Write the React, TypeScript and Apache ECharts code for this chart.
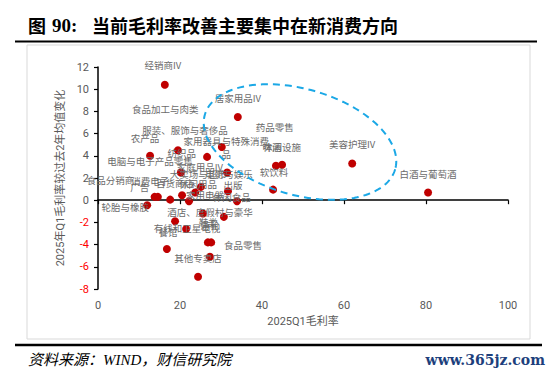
import React, { useEffect, useRef } from "react";
import * as echarts from "echarts";

// 行业名称
const names = [
  "经销商IV", "居家用品IV", "农产品", "服装、服饰与奢侈品", "电脑与电子产品零售",
  "药品零售", "纺织品", "家用器具与特殊消费品", "啤酒", "休闲设施",
  "美容护理IV", "白酒与葡萄酒", "家庭用品IV", "大卖场与超市", "食品分销商",
  "广告", "消费电子", "百货商店", "休闲用品", "电影与娱乐",
  "出版", "软饮料", "轮胎与橡胶", "家用电器", "休闲食品",
  "餐馆", "食品加工与肉类", "酒店、度假村与豪华游轮", "鞋类", "有线和卫星电视",
  "食品零售", "其他专卖店",
];
// 2025Q1毛利率
const grossMargin = [
  16.3, 34.1, 12.7, 19.5, 26.6,
  30.2, 20.2, 31.5, 43.4, 44.9,
  62.0, 80.5, 25.1, 23.7, 13.8,
  14.6, 17.6, 20.5, 22.2, 31.7,
  33.9, 42.7, 12.0, 25.6, 30.7,
  18.8, 21.5, 26.8, 27.6, 16.8,
  27.3, 24.4,
];
// 2025年Q1毛利率较过去2年均值变化
const marginChange = [
  10.4, 7.5, 4.0, 4.5, 3.9,
  4.8, 2.5, 2.5, 3.1, 3.2,
  3.3, 0.7, 1.2, 0.7, 0.3,
  0.3, 0.05, 0.45, -0.1, 0.8,
  -0.1, 0.95, -0.45, -1.2, -1.5,
  -1.9, -2.6, -3.8, -3.8, -4.4,
  -5.1, -6.9,
];
const xTicks = { min: 0, max: 100, interval: 20 };
const yTicks = { min: -8, max: 12, interval: 2 };

// label styling (wrapping and pixel offsets of data labels)
const labelWrap: Record<string, string> = {
  "家用器具与特殊消费品": "家用器具与特殊消费\n品",
  "酒店、度假村与豪华游轮": "酒店、度假村与豪华\n游轮",
};
const labelOffsets: Record<string, [number, number]> = {
  "经销商IV": [-2, -20],
  "居家用品IV": [0, -19],
  "农产品": [-5, -18],
  "服装、服饰与奢侈品": [7, -20],
  "电脑与电子产品零售": [-57, 4],
  "药品零售": [53, -20],
  "纺织品": [1, -19],
  "家用器具与特殊消费品": [-1, -24.5],
  "啤酒": [-4, -19],
  "休闲设施": [0, -18],
  "美容护理IV": [0, -20],
  "白酒与葡萄酒": [0, -18],
  "家庭用品IV": [-1, -20],
  "大卖场与超市": [3, -18],
  "食品分销商": [-44, -17],
  "广告": [-18, -10],
  "消费电子": [-20, -18.5],
  "百货商店": [-7, -12],
  "休闲用品": [9, -17],
  "电影与娱乐": [1, -17],
  "出版": [-4, -16],
  "软饮料": [1, -17.5],
  "轮胎与橡胶": [-22, 2],
  "家用电器": [2, -19],
  "休闲食品": [8, -19.5],
  "餐馆": [-7, 11],
  "食品加工与肉类": [-21, -120],
  "酒店、度假村与豪华游轮": [2, -23.5],
  "鞋类": [-3, -20],
  "有线和卫星电视": [20, -21],
  "食品零售": [33, -11.5],
  "其他专卖店": [0, -19],
};

const DOT = 8;
const SANS = "Roboto, 'Noto Sans', 'Noto Sans CJK SC', sans-serif";
const CJK = "'Noto Sans CJK SC', sans-serif";

// annotation ellipse outline (pixel geometry of the highlighted area)
function ellipsePoints(cx: number, cy: number, a: number, b: number, deg: number, n: number) {
  const th = (deg * Math.PI) / 180;
  const pts: number[][] = [];
  for (let i = 0; i < n; i++) {
    const t = (i / n) * Math.PI * 2;
    const ex = a * Math.cos(t);
    const ey = b * Math.sin(t);
    pts.push([cx + ex * Math.cos(th) - ey * Math.sin(th), cy + ex * Math.sin(th) + ey * Math.cos(th)]);
  }
  return pts;
}

export default function App() {
  const ref = useRef<HTMLDivElement>(null);
  useEffect(() => {
    if (!ref.current) return;
    const chart = echarts.init(ref.current, undefined, { renderer: "svg" });
    const data = names.map((n, i) => {
      const off = labelOffsets[n] || [0, -19];
      return {
        name: n,
        value: [grossMargin[i], marginChange[i]],
        label: { position: [DOT / 2 + off[0], DOT / 2 + off[1]] },
      };
    });
    const option: any = {
      animation: false,
      backgroundColor: "#fff",
      grid: { left: 98, top: 67, width: 410, height: 222, containLabel: false },
      xAxis: [
        {
          type: "value",
          ...xTicks,
          position: "bottom",
          axisLine: { show: false, onZero: false },
          axisTick: { show: false },
          splitLine: { show: false },
          axisLabel: { color: "#595959", fontSize: 11, fontFamily: SANS, margin: 11 },
          name: "2025Q1毛利率",
          nameLocation: "middle",
          nameGap: 26,
          nameTextStyle: { color: "#595959", fontSize: 11, fontFamily: SANS },
        },
        {
          type: "value",
          ...xTicks,
          position: "bottom",
          axisLine: { show: true, onZero: true, lineStyle: { color: "#000", width: 1.6 } },
          axisTick: { show: true, length: 4, lineStyle: { color: "#000", width: 1.2 } },
          axisLabel: { show: false },
          splitLine: { show: false },
        },
      ],
      yAxis: {
        type: "value",
        ...yTicks,
        axisLine: { show: true, lineStyle: { color: "#000", width: 1.5 } },
        axisTick: { show: true, length: 4, lineStyle: { color: "#000", width: 1.2 } },
        splitLine: { show: false },
        axisLabel: {
          fontSize: 11,
          fontFamily: SANS,
          margin: 9,
          color: (v: any) => (Number(v) < 0 ? "#FF0000" : "#595959"),
        },
        name: "2025年Q1毛利率较过去2年均值变化",
        nameLocation: "middle",
        nameGap: 30,
        nameTextStyle: { color: "#595959", fontSize: 11, fontFamily: SANS },
      },
      series: [
        {
          type: "scatter",
          xAxisIndex: 0,
          symbolSize: DOT,
          itemStyle: { color: "#C00000", opacity: 1 },
          data,
          label: {
            show: true,
            align: "center",
            verticalAlign: "middle",
            fontSize: 9.5,
            lineHeight: 13,
            color: "#6b6b6b",
            fontFamily: CJK,
            formatter: (p: any) => labelWrap[p.name] || p.name,
          },
          labelLayout: { hideOverlap: false },
        },
      ],
      graphic: [
        {
          type: "rect",
          z: -1,
          shape: { x: 27, y: 45, width: 503, height: 294 },
          style: { fill: "none", stroke: "#d9d9d9", lineWidth: 1 },
        },
        {
          type: "text",
          x: 28,
          y: 25,
          style: { text: "图", font: "bold 18px 'Noto Sans CJK SC'", fill: "#000", verticalAlign: "middle" },
        },
        {
          type: "text",
          x: 52,
          y: 25,
          style: { text: "90:", font: "bold 19px 'Liberation Serif'", fill: "#000", verticalAlign: "middle" },
        },
        {
          type: "text",
          x: 92,
          y: 25,
          style: {
            text: "当前毛利率改善主要集中在新消费方向",
            font: "bold 18px 'Noto Sans CJK SC'",
            fill: "#000",
            verticalAlign: "middle",
          },
        },
        {
          type: "line",
          shape: { x1: 15, y1: 41.5, x2: 537, y2: 41.5 },
          style: { stroke: "#000", lineWidth: 2 },
        },
        {
          type: "line",
          shape: { x1: 15, y1: 345, x2: 542, y2: 345 },
          style: { stroke: "#000", lineWidth: 2.5 },
        },
        {
          type: "text",
          x: 28,
          y: 360,
          style: {
            text: "资料来源：WIND，财信研究院",
            font: "italic 15px 'Liberation Serif', 'Noto Sans CJK SC'",
            fill: "#000",
            verticalAlign: "middle",
          },
        },
        {
          type: "text",
          x: 545,
          y: 360,
          style: {
            text: "www.365jz.com",
            font: "bold 14px 'DejaVu Serif'",
            fill: "#1d3f7c",
            align: "right",
            verticalAlign: "middle",
          },
        },
        {
          type: "polygon",
          z: 100,
          shape: { points: ellipsePoints(300, 142, 99, 53, 16, 160) },
          style: { fill: "none", stroke: "#1BA8E6", lineWidth: 2, lineDash: [7, 5] },
        },
      ],
    };
    chart.setOption(option);
    return () => chart.dispose();
  }, []);
  return (
    <div
      ref={ref}
      style={{ position: "absolute", left: 0, top: 0, width: 550, height: 375, background: "#fff" }}
    />
  );
}
